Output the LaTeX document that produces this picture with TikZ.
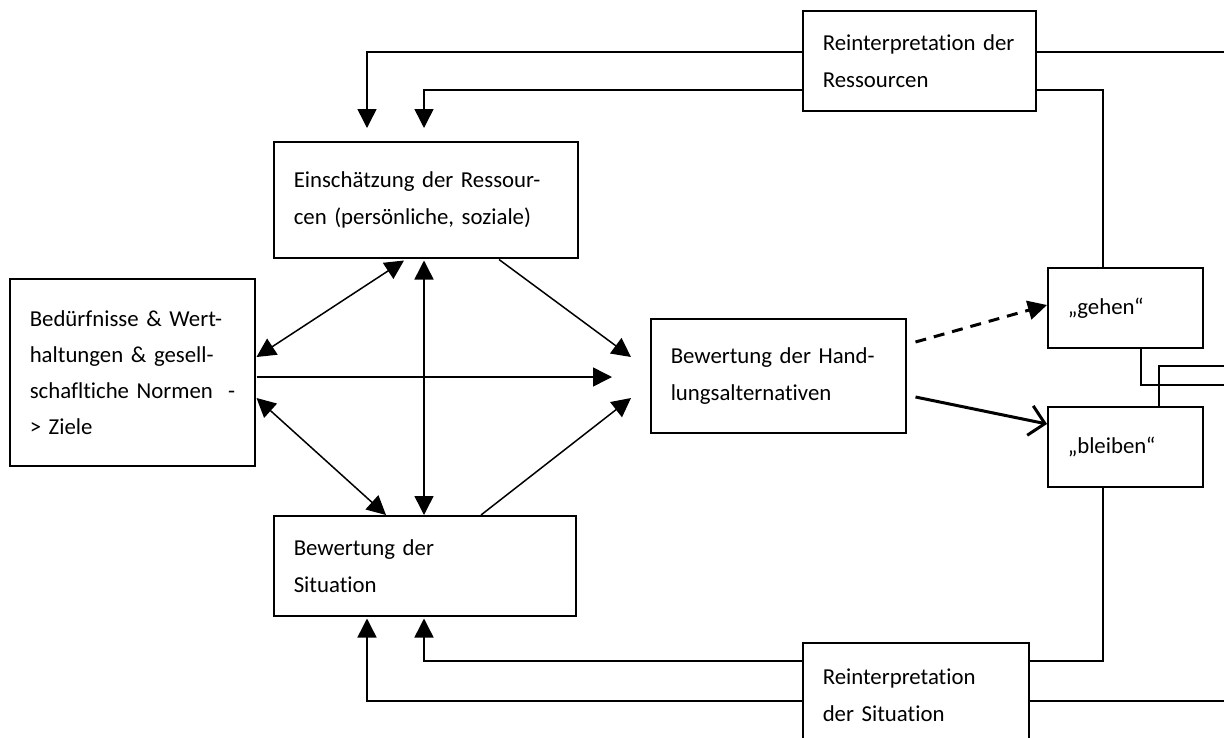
\documentclass[tikz,border=0pt]{standalone}
\usepackage{fontspec}
\setmainfont{Carlito}[Ligatures={NoCommon}]
\usetikzlibrary{arrows.meta}
\begin{document}
\begin{tikzpicture}[x=1pt,y=1pt,
  box/.style={draw, line width=1.5pt, rectangle, anchor=north west, align=left,
    inner xsep=20pt, inner ysep=0pt, font=\fontsize{22.8}{37}\selectfont},
  con/.style={line width=1.5pt},
  arr/.style={con, -{Triangle[length=19pt,width=19pt]}},
  darr/.style={con, {Triangle[length=19pt,width=19pt]}-{Triangle[length=19pt,width=19pt]}},
  dasharr/.style={line width=3pt, dash pattern=on 11pt off 8pt, -{Triangle[length=19pt,width=19pt,sep=0pt]}},
  openarr/.style={line width=3pt, -{Straight Barb[length=15pt,width=30pt,line width=3pt]}}
]
\useasboundingbox (0,0) rectangle (1224,-737);
\clip (0,0) rectangle (1224,-737);

% boxes
\node[box, text width=264pt, minimum height=116pt] (A) at (273,-141)
  {\mbox{Einschätzung der Ressour-}\\\mbox{cen (persönliche, soziale)}};
\node[box, text width=205pt, minimum height=187pt, font=\fontsize{22.8}{36}\selectfont] (B) at (9,-278)
  {\mbox{Bedürfnisse \& Wert-}\\\mbox{haltungen \& gesell-}\\\mbox{schafltiche Normen~~-}\\\mbox{> Ziele}};
\node[box, text width=262pt, minimum height=100pt] (C) at (273,-515)
  {\mbox{Bewertung der}\\\mbox{Situation}};
\node[box, text width=215pt, minimum height=114pt] (D) at (650,-318)
  {\mbox{Bewertung der Hand-}\\\mbox{lungsalternativen}};
\node[box, text width=115pt, minimum height=80pt] (E) at (1047,-267) {„gehen“};
\node[box, text width=115pt, minimum height=80pt] (F) at (1047,-406) {„bleiben“};
\node[box, text width=193pt, minimum height=100pt] (G) at (802,-10)
  {\mbox{Reinterpretation der}\\\mbox{Ressourcen}};
\node[box, text width=186pt, minimum height=105pt] (H) at (802,-642)
  {\mbox{Reinterpretation}\\\mbox{der Situation}};

% free ends at the right edge
\coordinate (r1) at (1226,-52);
\coordinate (r2) at (1226,-366);
\coordinate (r3) at (1226,-385);
\coordinate (r4) at (1226,-701);

% top feedback loop
\draw[arr] ([yshift=-42pt]G.north west) -| ([xshift=94pt,yshift=13pt]A.north west);
\draw[arr] ([yshift=-80pt]G.north west) -| ([xshift=151pt,yshift=13pt]A.north west);
\draw[con] ([yshift=-42pt]G.north east) -- (r1);
\draw[con] ([yshift=-80pt]G.north east) -| ([xshift=56pt]E.north west);

% right side
\draw[con] ([xshift=94pt]E.south west) |- (r3);
\draw[con] ([xshift=112pt]F.north west) |- (r2);
\draw[con] ([xshift=56pt]F.south west) |- ([yshift=-19pt]H.north east);
\draw[con] ([yshift=-59pt]H.north east) -- (r4);

% bottom feedback loop
\draw[arr] ([yshift=-19pt]H.north west) -| ([xshift=151pt,yshift=-2pt]C.south west);
\draw[arr] ([yshift=-59pt]H.north west) -| ([xshift=94pt,yshift=-2pt]C.south west);

% middle arrows
\draw[darr] ([xshift=131pt,yshift=-2pt]A.south west) -- ([xshift=1pt,yshift=-79pt]B.north east);
\draw[darr] ([xshift=151pt,yshift=-2pt]A.south west) -- ([xshift=151pt]C.north west);
\draw[arr] ([xshift=1pt,yshift=-99pt]B.north east) -- ([xshift=-38pt,yshift=-59pt]D.north west);
\draw[arr] ([xshift=226pt,yshift=-1pt]A.south west) -- ([xshift=-19pt,yshift=-39pt]D.north west);
\draw[arr] ([xshift=208pt]C.north west) -- ([xshift=-19pt,yshift=-80pt]D.north west);
\draw[darr] ([xshift=1pt,yshift=-120pt]B.north east) -- ([xshift=113pt]C.north west);

% decision arrows
\draw[dasharr] ([xshift=9pt,yshift=-24pt]D.north east) -- ([yshift=-38pt]E.north west);
\draw[openarr] ([xshift=9pt,yshift=-79pt]D.north east) -- ([yshift=-18pt]F.north west);
\end{tikzpicture}
\end{document}
